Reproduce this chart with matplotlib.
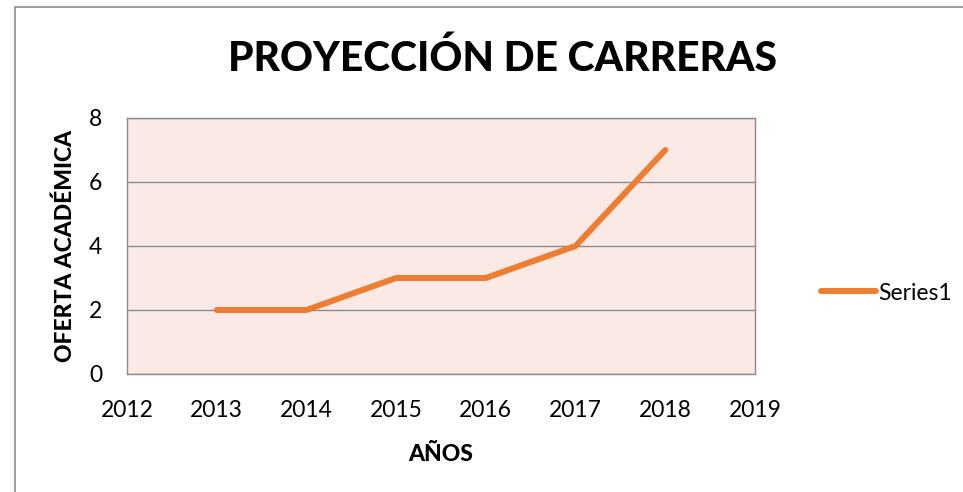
import matplotlib
matplotlib.use("Agg")
import matplotlib.pyplot as plt
from matplotlib.patches import Rectangle

years = [2013, 2014, 2015, 2016, 2017, 2018]
values = [2, 2, 3, 3, 4, 7]
xticks = [2012, 2013, 2014, 2015, 2016, 2017, 2018, 2019]
yticks = [0, 2, 4, 6, 8]

plt.rcParams['font.family'] = ['Lato', 'DejaVu Sans']

fig = plt.figure(figsize=(9.63, 4.92), dpi=100)
ax = fig.add_axes([127/963, 1-374/492, (755-127)/963, (374-118)/492])
ax.set_facecolor('#FBE9E5')
ax.plot(years, values, color='#ED7D31', linewidth=4.3, solid_capstyle='round', label='Series1')
ax.set_xlim(2012, 2019)
ax.set_ylim(0, 8)
ax.set_xticks(xticks)
ax.set_yticks(yticks)
ax.tick_params(length=0, labelsize=16.5)
ax.tick_params(axis='x', pad=19)
ax.tick_params(axis='y', pad=18)
ax.grid(axis='y', color='#8C8C8C', linewidth=1)
ax.set_axisbelow(True)
for s in ax.spines.values():
    s.set_color('#8C8C8C')
    s.set_linewidth(1)

ax.set_xlabel('AÑOS', fontsize=16.5, fontweight='black', labelpad=16)
ax.set_ylabel('OFERTA ACADÉMICA', fontsize=16.5, fontweight='black', labelpad=9)
fig.text(0.522, 1-58/492, 'PROYECCIÓN DE CARRERAS', fontsize=29.3, fontweight='black', ha='center', va='center')

leg = fig.legend(loc='center left', bbox_to_anchor=(812/963, 1-293/492), frameon=False,
                 fontsize=16.5, handlelength=2.4, handletextpad=0.1, borderaxespad=0)

fig.patches.append(Rectangle((15/963, -0.1), 1.2, 1.1 - 7/492, transform=fig.transFigure,
                             fill=False, edgecolor='#8C8C8C', linewidth=1.2))

fig.savefig('out.png', dpi=100)
